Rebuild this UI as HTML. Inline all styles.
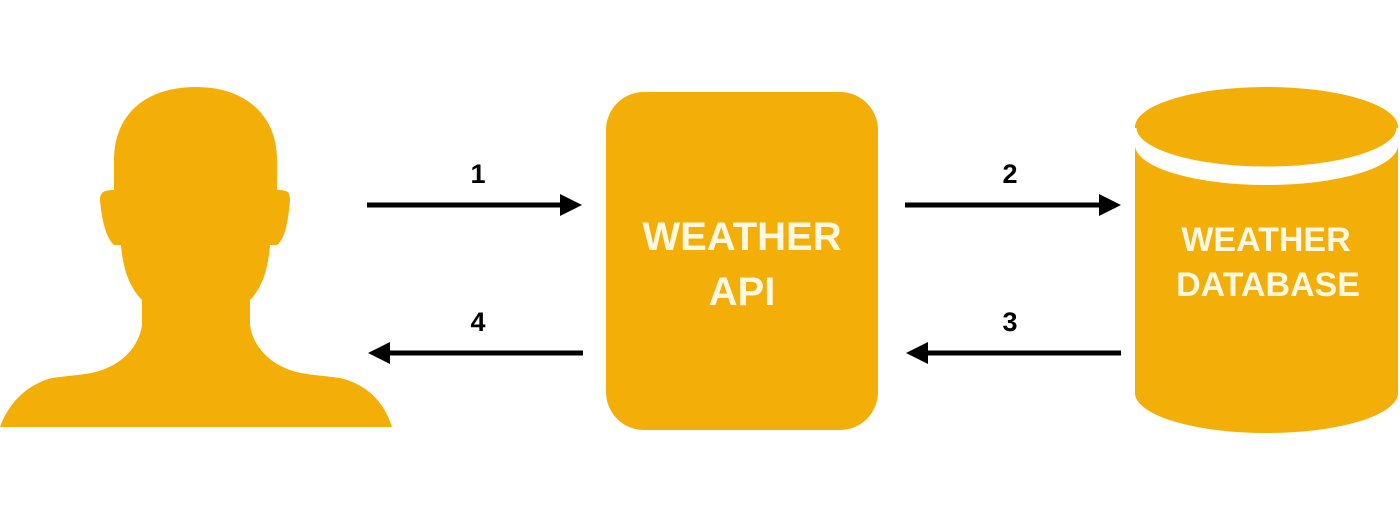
<!DOCTYPE html>
<html><head><meta charset="utf-8"><style>html,body{margin:0;padding:0;background:#fff;}svg{display:block}</style></head>
<body>
<svg width="1400" height="522" viewBox="0 0 1400 522" xmlns="http://www.w3.org/2000/svg">
<g fill="#f3ae08">
<path d="M0,427 L392,427 C385,405 370,385 340,378 C320,375 300,375 285,368 C262,358 252,340 250,325 L250,300 C262,288 268,270 270,245 L277,245 C284,240 288,225 290,200 C290,192 288,190 277,190 L277,160 C277,115 245,87 196,87 C145,87 114,115 114,160 L114,190 C104,190 100,192 100,200 C102,225 108,240 114,245 L121,245 C123,270 130,288 142,300 L142,325 C140,340 130,358 107,368 C92,375 72,375 52,378 C25,385 8,405 0,427 Z"/>
<rect x="606" y="92" width="272" height="338" rx="38" ry="38"/>
<path d="M1135,145 L1135,393 A131.5,40 0 0 0 1398,393 L1398,145 A131.5,40 0 0 1 1135,145 Z"/>
<ellipse cx="1266.5" cy="127" rx="131.5" ry="40"/>
</g>
<path d="M1135,145 A131.5,40 0 0 0 1398,145" fill="none" stroke="#fff" stroke-width="3" transform="translate(0,-17)"/>
<g fill="#000">
<rect x="367" y="202.5" width="200" height="5"/><polygon points="560,194 582,205 560,216"/>
<rect x="905" y="202.5" width="200" height="5"/><polygon points="1099,194 1121,205 1099,216"/>
<rect x="383" y="350.5" width="200" height="5"/><polygon points="390,342 368,353 390,364"/>
<rect x="922" y="350.5" width="199" height="5"/><polygon points="928,342 906,353 928,364"/>
</g>
<g font-family="Liberation Sans, sans-serif" font-weight="bold" text-anchor="middle">
<text x="478" y="183" font-size="27">1</text>
<text x="1010" y="183" font-size="27">2</text>
<text x="1010" y="331" font-size="27">3</text>
<text x="478" y="331" font-size="27">4</text>
<text x="742" y="250" font-size="40" fill="#fdf8e4">WEATHER</text>
<text x="742" y="305" font-size="40" fill="#fdf8e4">API</text>
<text x="1266" y="251" font-size="34" fill="#fdf8e4">WEATHER</text>
<text x="1268" y="296" font-size="34" fill="#fdf8e4">DATABASE</text>
</g>
</svg>
</body></html>
